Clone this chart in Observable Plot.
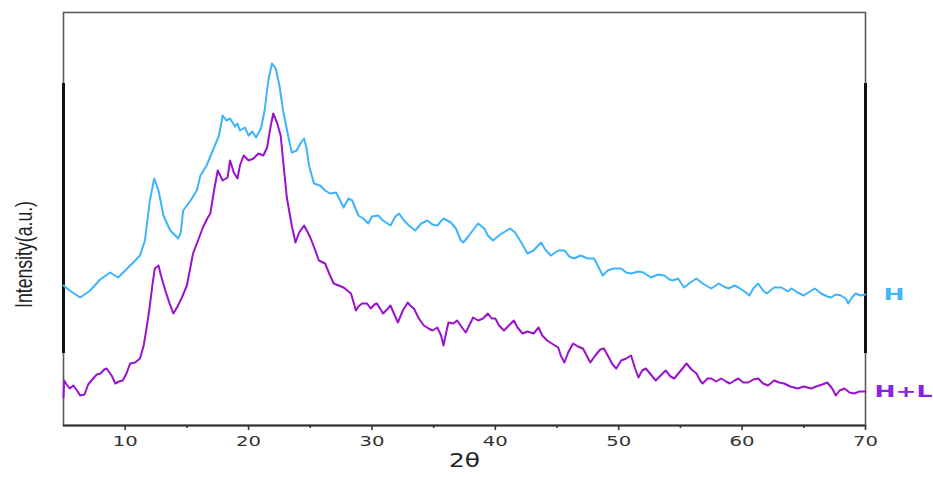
<!DOCTYPE html>
<html>
<head>
<meta charset="utf-8">
<script src="https://cdn.jsdelivr.net/npm/d3@7"></script>
<script src="https://cdn.jsdelivr.net/npm/@observablehq/plot@0.6"></script>
<style>
  html, body { margin: 0; padding: 0; background: #fff; }
  #chart { width: 933px; height: 477px; }
</style>
</head>
<body>
<div id="chart"></div>
<script>
// ---- data ----
const seriesNames = ["H", "H+L"];
const seriesColors = ["#3db4fb", "#9a12c9"];
const labelColors = ["#45b6f3", "#8a22e6"];

const thetaH = [5.0,5.5,6.35,7.16,7.97,8.78,9.43,10.0,10.65,11.2,11.6,12.0,12.35,12.7,13.1,13.65,14.3,14.5,14.7,15.3,15.8,16.1,16.6,17.1,17.6,17.9,18.2,18.5,18.9,19.1,19.3,19.7,20.0,20.3,20.6,21.0,21.3,21.6,21.9,22.2,22.5,22.8,23.2,23.5,23.9,24.2,24.5,24.7,24.9,25.3,25.8,26.2,26.6,27.1,27.7,28.1,28.4,28.9,29.3,29.7,30.0,30.5,30.9,31.5,31.9,32.2,32.6,33.0,33.5,34.0,34.5,34.9,35.3,35.8,36.4,36.8,37.2,37.4,37.8,38.6,39.1,39.4,39.8,40.4,41.2,41.6,42.1,42.6,43.1,43.7,44.1,44.5,45.1,45.6,46.0,46.4,46.9,47.5,48.0,48.3,48.7,49.1,49.6,50.2,50.6,51.0,51.6,52.0,52.6,53.2,53.7,54.1,54.4,54.8,55.3,55.8,56.3,56.8,57.5,58.1,58.5,58.9,59.4,59.7,60.2,60.6,60.9,61.3,61.7,62.0,62.4,62.6,63.2,63.7,64.0,64.5,65.0,65.5,65.9,66.4,66.9,67.2,67.6,68.0,68.4,68.6,68.9,69.2,69.6,70.0];
const intensityH = [140,135,128,135,146,153,148,155,163,170,185,225,247,235,210,195,187,193,215,225,235,250,260,275,290,310,305,307,299,302,295,298,290,294,288,297,315,345,362,357,340,315,290,273,275,282,287,277,260,242,240,235,232,233,218,227,225,210,207,202,209,210,205,200,209,212,205,200,195,202,205,201,200,207,203,197,185,183,189,202,197,190,185,191,197,193,183,172,175,183,175,170,175,175,169,167,170,167,167,160,150,155,157,157,153,152,154,153,148,151,150,146,145,147,138,143,147,142,137,142,139,137,140,138,134,130,137,142,135,132,136,138,138,134,137,133,130,134,137,132,129,128,131,130,127,122,128,132,130,131];

const thetaHL = [5.0,5.05,5.2,5.5,5.8,6.1,6.35,6.7,7.0,7.4,7.7,8.0,8.3,8.5,8.9,9.2,9.5,9.8,10.1,10.4,10.8,11.2,11.5,11.7,11.95,12.2,12.4,12.7,12.9,13.25,13.6,13.9,14.2,14.6,15.0,15.5,15.9,16.3,16.65,16.9,17.2,17.5,17.9,18.3,18.5,18.8,19.1,19.3,19.6,20.0,20.4,20.8,21.2,21.5,21.8,22.0,22.3,22.6,22.8,23.1,23.5,23.8,24.1,24.5,24.8,25.0,25.35,25.7,26.2,26.6,26.9,27.3,27.7,28.0,28.3,28.7,28.9,29.2,29.6,29.9,30.2,30.4,30.9,31.3,31.5,32.1,32.5,32.9,33.1,33.4,33.8,34.2,34.6,34.9,35.3,35.6,35.8,36.05,36.2,36.6,36.9,37.3,37.6,38.0,38.2,38.6,39.0,39.4,39.7,40.0,40.3,40.7,41.1,41.5,41.8,42.2,42.6,43.1,43.5,43.8,44.2,44.7,45.1,45.3,45.6,45.9,46.3,46.7,47.1,47.4,47.7,48.1,48.5,48.8,49.2,49.5,49.8,50.2,50.6,51.0,51.3,51.6,51.9,52.2,52.6,53.0,53.4,53.8,54.2,54.5,54.9,55.5,55.9,56.3,56.6,56.8,57.2,57.5,57.9,58.3,58.7,59.0,59.4,59.7,60.1,60.5,60.9,61.3,61.7,62.1,62.6,63.0,63.4,63.9,64.5,65.0,65.6,66.0,66.5,66.9,67.3,67.6,67.9,68.3,68.7,69.1,69.5,70.0];
const intensityHL = [28,45,42,37,40,35,30,31,41,47,51,52,56,57,50,42,44,45,52,62,63,67,80,95,115,140,157,160,150,135,122,112,118,128,140,172,185,198,207,212,235,255,245,248,265,253,247,260,270,265,267,272,270,278,300,312,303,290,265,228,200,183,193,200,193,188,177,165,162,150,142,140,138,135,132,115,119,122,122,117,121,122,112,117,120,103,115,123,120,117,107,100,97,95,98,90,80,95,103,102,105,98,93,103,108,105,107,112,107,107,100,95,100,105,98,92,94,92,98,90,85,81,78,70,63,73,82,79,77,70,63,70,76,77,68,61,57,65,67,70,58,48,55,57,51,45,50,55,49,47,53,62,56,52,45,42,47,47,44,47,44,42,45,47,43,43,46,47,42,40,45,43,42,39,37,39,37,39,41,43,37,30,35,37,33,32,34,34];

const xTicks = [10, 20, 30, 40, 50, 60, 70];
const xMinorTicks = [15, 25, 35, 45, 55, 65];
const xDomain = [5, 70];
const yDomain = [0, 413];
const frameAccentX = [5, 70];
const frameAccentSpan = [72, 342];
const xLabel = "2θ";
const yLabel = "Intensity(a.u.)";

// ---- build tables ----
const rows = [
  ...thetaH.map((t, i) => ({series: seriesNames[0], theta: t, intensity: intensityH[i]})),
  ...thetaHL.map((t, i) => ({series: seriesNames[1], theta: t, intensity: intensityHL[i]}))
];
const endLabels = [
  {series: seriesNames[0], theta: thetaH[thetaH.length - 1], intensity: intensityH[intensityH.length - 1], color: labelColors[0]},
  {series: seriesNames[1], theta: thetaHL[thetaHL.length - 1], intensity: intensityHL[intensityHL.length - 1], color: labelColors[1]}
];

const plot = Plot.plot({
  width: 933,
  height: 477,
  marginTop: 12,
  marginRight: 68,
  marginBottom: 52,
  marginLeft: 63,
  style: {fontFamily: "DejaVu Sans", background: "#fff", overflow: "visible"},
  x: {domain: xDomain},
  y: {domain: yDomain, axis: null},
  color: {domain: seriesNames, range: seriesColors},
  marks: [
    Plot.frame({stroke: "#5a5a5a", strokeWidth: 1.6}),
    Plot.ruleX(frameAccentX, {y1: frameAccentSpan[0], y2: frameAccentSpan[1], stroke: "#111", strokeWidth: 3}),
    Plot.line(rows, {x: "theta", y: "intensity", z: "series", stroke: "series", strokeWidth: 2, curve: "linear"}),
    Plot.ruleY([0], {stroke: "#333", strokeWidth: 2}),
    Plot.axisX({ticks: xTicks, tickSize: 5, tickPadding: 6, fontSize: 14, stroke: "#333", strokeWidth: 1.6, fill: "#333", label: null}),
    Plot.axisX({ticks: xMinorTicks, tickSize: 3, text: null, stroke: "#333", strokeWidth: 1.6, label: null}),
    Plot.text([xLabel], {frameAnchor: "bottom", dy: 41, fontSize: 19, fill: "#222", text: d => d}),
    Plot.text([yLabel], {frameAnchor: "left", rotate: -90, dx: -39, dy: 89, fontSize: 24, fontFamily: "Liberation Sans", fill: "#222", text: d => d}),
    Plot.text(endLabels, {x: "theta", y: "intensity", text: "series", fill: "color", dx: 9, textAnchor: "start", fontSize: 16, fontWeight: "bold"})
  ]
});

document.getElementById("chart").appendChild(plot);

// stretch the text horizontally as in the reference
plot.querySelectorAll("text").forEach(t => {
  const s = t.textContent;
  if (s === yLabel) {
    t.setAttribute("textLength", 107);
    t.setAttribute("lengthAdjust", "spacingAndGlyphs");
  } else if (xTicks.map(String).includes(s)) {
    t.setAttribute("textLength", 25);
    t.setAttribute("lengthAdjust", "spacingAndGlyphs");
  } else if (s === xLabel) {
    t.setAttribute("textLength", 31);
    t.setAttribute("lengthAdjust", "spacingAndGlyphs");
  } else if (s === seriesNames[0]) {
    t.setAttribute("textLength", 21);
    t.setAttribute("lengthAdjust", "spacingAndGlyphs");
    t.setAttribute("x", 18 - 9 + (+t.getAttribute("x") || 0));
  } else if (s === seriesNames[1]) {
    t.setAttribute("textLength", 58);
    t.setAttribute("lengthAdjust", "spacingAndGlyphs");
  }
});
</script>
</body>
</html>
